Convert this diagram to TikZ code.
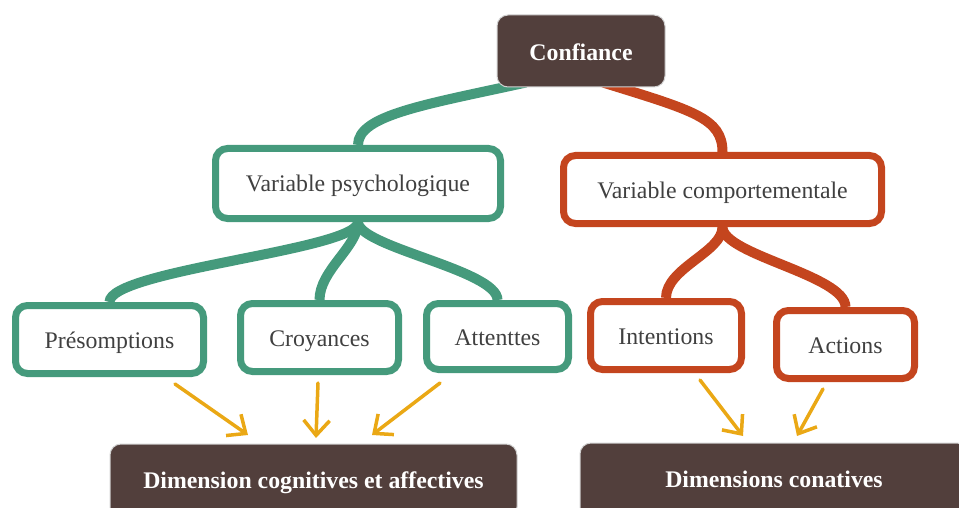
\documentclass[tikz,border=0pt]{standalone}
\usepackage{fontspec}
\setmainfont{Liberation Serif}
\usetikzlibrary{arrows.meta,backgrounds}
\definecolor{cgreen}{HTML}{459A7C}
\definecolor{cred}{HTML}{C4451E}
\definecolor{cbrown}{HTML}{523F3C}
\definecolor{corange}{HTML}{EAA815}
\definecolor{ctext}{HTML}{404040}
\tikzset{
  darkbox/.style={rectangle, rounded corners=11pt, fill=cbrown, draw=gray!35, line width=1pt,
    text=white, font=\fontsize{23.8}{28}\selectfont\bfseries, inner sep=0pt,
    text height=14pt, text depth=0pt},
  greenbox/.style={rectangle, rounded corners=12pt, fill=white, draw=cgreen, line width=7pt,
    text=ctext, font=\fontsize{23.8}{28}\selectfont, inner sep=0pt,
    text height=17pt, text depth=0pt},
  redbox/.style={greenbox, draw=cred},
  greenlink/.style={draw=cgreen, line width=10pt},
  redlink/.style={draw=cred, line width=10pt},
  flowarrow/.style={draw=corange, line width=3.5pt, line cap=round,
    -{Straight Barb[length=15pt,width=26pt,line width=3.5pt]}}
}
\begin{document}
\begin{tikzpicture}[x=1pt,y=-1pt]
\useasboundingbox (0,0) rectangle (959,508);
\clip (0,0) rectangle (959,508);
% nodes
\node[darkbox, text height=20pt, minimum width=168pt, minimum height=72pt] (conf) at (581,51) {Confiance};
\node[greenbox, minimum width=285pt, minimum height=70pt] (vp) at (358,183.5) {Variable psychologique};
\node[redbox, minimum width=318pt, minimum height=68pt] (vc) at (722.5,189.5) {Variable comportementale};
\node[greenbox, minimum width=188pt, minimum height=68pt] (pres) at (109.5,339.5) {Présomptions};
\node[greenbox, minimum width=158pt, minimum height=68pt] (croy) at (319.5,337.5) {Croyances};
\node[greenbox, minimum width=142pt, minimum height=66pt] (att) at (497.5,336.5) {Attenttes};
\node[redbox, minimum width=151pt, minimum height=68pt] (int) at (666,335.5) {Intentions};
\node[redbox, minimum width=138pt, minimum height=68pt] (act) at (845.5,344.5) {Actions};
\node[darkbox, minimum width=407pt, minimum height=74pt] (dcog) at (313.5,481) {Dimension cognitives et affectives};
\node[darkbox, minimum width=388pt, minimum height=75pt] (dcon) at (774,480.5) {Dimensions conatives};
% connectors
\begin{scope}[on background layer]
\draw[greenlink] ([xshift=-55pt,yshift=5pt]conf.south) .. controls +(-100,22) and +(0,-30) .. (vp.north);
\draw[redlink] ([xshift=22pt,yshift=5pt]conf.south) .. controls +(90,28) and +(0,-34) .. (vc.north);
\draw[greenlink] (vp.south) .. controls +(0,28) and +(0,-32) .. (pres.north);
\draw[greenlink] (vp.south) .. controls +(0,25) and +(0,-30) .. (croy.north);
\draw[greenlink] (vp.south) .. controls +(0,25) and +(0,-30) .. (att.north);
\draw[redlink] (vc.south) .. controls +(0,25) and +(0,-30) .. (int.north);
\draw[redlink] (vc.south) .. controls +(0,28) and +(0,-32) .. (act.north);
\end{scope}
% arrows
\coordinate (a1s) at (175,384); \coordinate (a1e) at (248,435);
\coordinate (a2s) at (318,383); \coordinate (a2e) at (316,438);
\coordinate (a3s) at (440,383); \coordinate (a3e) at (372,435);
\coordinate (a4s) at (700,380); \coordinate (a4e) at (743,436);
\coordinate (a5s) at (823,389); \coordinate (a5e) at (797,436);
\draw[flowarrow] (a1s) -- (a1e);
\draw[flowarrow] (a2s) -- (a2e);
\draw[flowarrow] (a3s) -- (a3e);
\draw[flowarrow] (a4s) -- (a4e);
\draw[flowarrow] (a5s) -- (a5e);
\end{tikzpicture}
\end{document}
